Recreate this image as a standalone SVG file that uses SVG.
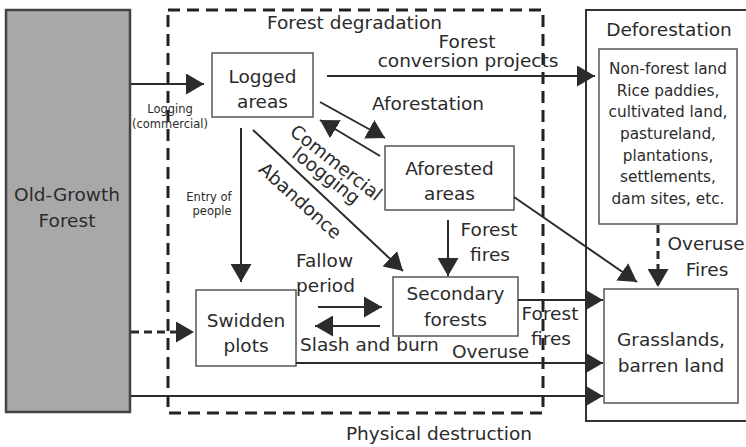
<svg xmlns="http://www.w3.org/2000/svg" width="746" height="447" viewBox="0 0 746 447">
<style>
text{font-family:"DejaVu Sans","Liberation Sans",sans-serif;font-size:18.5px;fill:#2b2b2b}
.m{text-anchor:middle}
.s{font-size:11.5px}
.nf{font-size:15.3px}
.box{fill:#fff;stroke:#555;stroke-width:1.5}
.ln{fill:none;stroke:#2b2b2b;stroke-width:2;marker-end:url(#ah)}
.dl{fill:none;stroke:#2b2b2b;stroke-width:3;stroke-dasharray:8 5;marker-end:url(#ah)}
</style>
<defs>
<marker id="ah" markerUnits="userSpaceOnUse" markerWidth="19" markerHeight="21" refX="18" refY="10.5" orient="auto">
<path d="M0,0 L18,10.5 L0,21 z" fill="#2b2b2b"/>
</marker>
</defs>
<rect width="746" height="447" fill="#fff"/>

<g id="old-growth">
<rect x="6" y="10" width="124" height="402" fill="#a8a8a8" stroke="#444" stroke-width="2.5"/>
<text class="m" x="67" y="201" font-size="19">Old-Growth</text>
<text class="m" x="67" y="227" font-size="19">Forest</text>
</g>

<g id="forest-degradation">
<rect x="168" y="10" width="375" height="403" fill="none" stroke="#222" stroke-width="3" stroke-dasharray="12 7"/>
<text x="267" y="29">Forest degradation</text>
</g>

<g id="physical-destruction">
<text class="m" x="439" y="440">Physical destruction</text>
</g>

<g id="deforestation">
<rect x="586" y="10" width="180" height="411" fill="none" stroke="#333" stroke-width="2"/>
<text class="m" x="669" y="36">Deforestation</text>
</g>

<g id="logged-areas">
<rect class="box" x="212" y="53" width="101" height="64"/>
<text class="m" x="262.5" y="83">Logged</text>
<text class="m" x="262.5" y="108">areas</text>
</g>

<g id="aforested-areas">
<rect class="box" x="385" y="146" width="129" height="64"/>
<text class="m" x="449.5" y="175">Aforested</text>
<text class="m" x="449.5" y="200">areas</text>
</g>

<g id="swidden-plots">
<rect class="box" x="196" y="290" width="100" height="76"/>
<text class="m" x="246" y="327">Swidden</text>
<text class="m" x="246" y="352">plots</text>
</g>

<g id="secondary-forests">
<rect class="box" x="393" y="277" width="125" height="59"/>
<text class="m" x="455.5" y="300">Secondary</text>
<text class="m" x="455.5" y="326">forests</text>
</g>

<g id="non-forest-land">
<rect class="box" x="599" y="49" width="138" height="175"/>
<text class="m nf" x="668" y="74">Non-forest land</text>
<text class="m nf" x="668" y="95.7">Rice paddies,</text>
<text class="m nf" x="668" y="117.3">cultivated land,</text>
<text class="m nf" x="668" y="139">pastureland,</text>
<text class="m nf" x="668" y="160.7">plantations,</text>
<text class="m nf" x="668" y="182.3">settlements,</text>
<text class="m nf" x="668" y="204">dam sites, etc.</text>
</g>

<g id="grasslands">
<rect class="box" x="604" y="289" width="134" height="114"/>
<text class="m" x="671" y="346">Grasslands,</text>
<text class="m" x="671" y="372">barren land</text>
</g>

<g id="connectors">
<line class="ln" x1="131" y1="84" x2="204" y2="84"/>
<text class="m s" x="170" y="113">Logging</text>
<text class="m s" x="170" y="128">(commercial)</text>

<line class="ln" x1="327" y1="76" x2="595" y2="76"/>
<text class="m" x="467" y="48">Forest</text>
<text class="m" x="468" y="67">conversion projects</text>

<line class="ln" x1="320" y1="102" x2="385" y2="138"/>
<line class="ln" x1="380" y1="156" x2="320" y2="120"/>
<text x="372" y="110">Aforestation</text>

<line class="ln" x1="241" y1="128" x2="241" y2="282"/>
<text class="m s" x="209" y="201">Entry of</text>
<text class="m s" x="212" y="215">people</text>

<line class="ln" x1="253" y1="130" x2="403" y2="271"/>
<text class="m" transform="translate(336,163) rotate(38)" y="6">Commercial</text>
<text class="m" transform="translate(326,176) rotate(38)" y="6">loogging</text>
<text class="m" transform="translate(300,201) rotate(42)" y="6">Abandonce</text>

<line class="ln" x1="448" y1="220" x2="448" y2="276"/>
<text class="m" x="489" y="236">Forest</text>
<text class="m" x="490" y="261">fires</text>

<line class="ln" x1="514" y1="197" x2="637" y2="282"/>

<line class="ln" x1="318" y1="307" x2="382" y2="307"/>
<line class="ln" x1="380" y1="326" x2="315" y2="326"/>
<text x="296" y="267">Fallow</text>
<text x="296" y="292">period</text>
<text x="300" y="351">Slash and burn</text>

<line class="dl" x1="131" y1="332" x2="194" y2="332"/>

<line class="ln" x1="518" y1="300" x2="603" y2="300"/>
<text class="m" x="550" y="320">Forest</text>
<text class="m" x="551" y="345">fires</text>

<line class="ln" x1="296" y1="363" x2="603" y2="363"/>
<text x="452" y="358">Overuse</text>

<line class="ln" x1="131" y1="396" x2="603" y2="396"/>

<line class="dl" x1="658" y1="225" x2="658" y2="287"/>
<text class="m" x="706" y="250">Overuse</text>
<text class="m" x="707" y="276">Fires</text>
</g>
</svg>
